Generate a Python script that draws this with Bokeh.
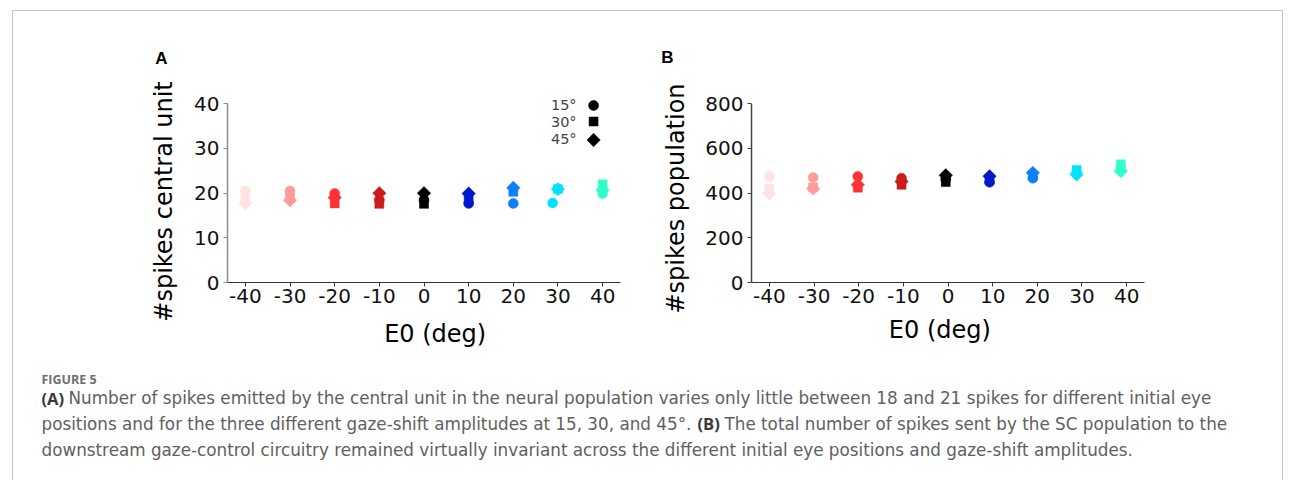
import math
from bokeh.plotting import figure
from bokeh.models import Range1d, Label, FixedTicker, ColumnDataSource
from bokeh.layouts import row, column
from bokeh.embed import file_html
from bokeh.resources import INLINE
from bokeh.core.properties import value

# ---------------- data ----------------
e0_ticks = [-40, -30, -20, -10, 0, 10, 20, 30, 40]
e0_colors = ["#ffe2e2", "#ff9b9b", "#ff3333", "#cc1b1b", "#000000",
             "#0019cc", "#0a80ff", "#00e3ff", "#30ffcc"]
amplitudes = ["15°", "30°", "45°"]

# Panel A: spikes of the central unit
a_x_15 = [-40, -30, -20, -10, 0, 10, 20, 28.8, 40]
a_x_30 = [-40, -30, -20, -10, 0, 10, 20, 30, 40]
a_x_45 = [-40, -30, -20, -10, 0, 10, 20, 30, 40]
a_y_15 = [20.5, 20.5, 19.9, 18.5, 18.5, 17.7, 17.7, 17.8, 19.9]
a_y_30 = [19.0, 19.0, 17.7, 17.6, 17.6, 18.7, 20.3, 20.9, 22.0]
a_y_45 = [17.8, 18.4, 19.0, 20.0, 20.0, 19.9, 21.2, 20.9, 20.7]
a_yticks = [0, 10, 20, 30, 40]

# Panel B: spikes of the whole population
b_x = [-40, -30.2, -20.2, -10.4, -0.5, 9.3, 19.0, 28.8, 38.7]
b_y_15 = [474, 469, 474, 466, 462, 448, 466, 490, 510]
b_y_30 = [419, 425, 424, 437, 449, 460, 478, 503, 528]
b_y_45 = [398, 420, 437, 451, 479, 475, 490, 483, 498]
b_yticks = [0, 200, 400, 600, 800]

panel_letters = ["A", "B"]
y_titles = ["#spikes central unit", "#spikes population"]
x_title = "E0 (deg)"
caption_title = "FIGURE 5"
caption_line1 = ("(A)", "Number of spikes emitted by the central unit in the neural population varies only little between 18 and 21 spikes for different initial eye")
caption_line2 = ("positions and for the three different gaze-shift amplitudes at 15, 30, and 45°.", "(B)", "The total number of spikes sent by the SC population to the")
caption_line3 = "downstream gaze-control circuitry remained virtually invariant across the different initial eye positions and gaze-shift amplitudes."

# ---------------- layout constants (page pixels) ----------------
PX0, PY0 = 12, 10           # top-left of the whole figure block
ROW_H, XL_H, CAP_H = 305, 35, 129
W_LA, W_A, W_LB, W_B = 178, 456, 55, 580
FONT = "DejaVu Sans"
BORDER = "#c4c4c4"
X_LA = PX0
X_A = X_LA + W_LA
X_LB = X_A + W_A
X_B = X_LB + W_LB
Y_XL = PY0 + ROW_H
Y_CAP = Y_XL + XL_H
FULL_W = W_LA + W_A + W_LB + W_B


def strip(w, h, x0, y0):
    """A plain drawing area; returns figure and page->data mapper."""
    p = figure(width=w, height=h, x_range=Range1d(0, w), y_range=Range1d(0, h),
               output_backend="svg", toolbar_location=None, min_border=0)
    p.axis.visible = False
    p.grid.visible = False
    p.outline_line_color = None

    def m(px, py):
        return px - x0, (y0 + h) - py
    return p, m


def put_text(p, m, px, py, t, size, font=FONT, bold=False, color="#000000",
             align="center", angle=0.0):
    x, y = m(px, py)
    p.text(x=[x], y=[y], text=[t], text_font=value(font), text_font_size=size,
           text_font_style="bold" if bold else "normal", text_color=color,
           text_align=align, text_baseline="middle", angle=angle)


def panel(w, h, x0, y0, fr, xr, yr, yticks, yaxis_color):
    """fr = (left, right, top, bottom) of the plotting frame in page pixels."""
    l, r, t, b = fr
    p = figure(width=w, height=h, x_range=Range1d(*xr), y_range=Range1d(*yr),
               output_backend="svg", toolbar_location=None,
               min_border_left=l - x0, min_border_right=(x0 + w) - r,
               min_border_top=t - y0, min_border_bottom=(y0 + h) - b)
    p.outline_line_color = None
    p.xgrid.grid_line_color = None
    p.ygrid.grid_line_color = None
    p.xaxis.ticker = FixedTicker(ticks=e0_ticks)
    p.xaxis.major_label_overrides = {v: str(v) for v in e0_ticks}
    p.yaxis.ticker = FixedTicker(ticks=yticks)
    p.yaxis.bounds = (yticks[0], yticks[-1])
    for ax in (p.xaxis, p.yaxis):
        ax.minor_tick_line_color = None
        ax.major_tick_in = 0
        ax.major_tick_out = 4
        ax.major_label_text_font = FONT
        ax.major_label_text_font_size = "20px"
        ax.major_label_text_color = "#111111"
    p.xaxis.axis_line_color = "#333333"
    p.xaxis.major_tick_line_color = "#333333"
    p.yaxis.axis_line_color = yaxis_color
    p.yaxis.major_tick_line_color = yaxis_color
    p.yaxis.axis_line_width = 1.5
    p.xaxis.major_label_standoff = 2
    p.yaxis.major_label_standoff = 4

    def m(px, py):
        x = xr[0] + (px - l) * (xr[1] - xr[0]) / (r - l)
        y = yr[0] + (b - py) * (yr[1] - yr[0]) / (b - t)
        return x, y
    return p, m


MARKERS = [("circle", 10, 0.0), ("square", 9, 0.0), ("square", 9.5, math.pi / 4)]


def add_points(p, xs_list, ys_list):
    for xs, ys, (mk, sz, ang) in zip(xs_list, ys_list, MARKERS):
        src = ColumnDataSource(dict(x=xs, y=ys, c=e0_colors))
        p.scatter("x", "y", source=src, marker=mk, size=sz, angle=ang,
                  fill_color="c", line_color="c", line_width=0.5)


# ---------------- panel A ----------------
pLA, mLA = strip(W_LA, ROW_H + XL_H, X_LA, PY0)
put_text(pLA, mLA, 160, 57, panel_letters[0], "17px", font="Liberation Sans", bold=True)
put_text(pLA, mLA, 162, 200, y_titles[0], "24px", angle=math.pi / 2)

pA, mA = panel(W_A, ROW_H, X_A, PY0, (225, 619, 95, 281), (-44, 44), (0, 41.63),
               a_yticks, "#8c8c8c")
add_points(pA, [a_x_15, a_x_30, a_x_45], [a_y_15, a_y_30, a_y_45])
# legend: text left of marker
leg_text_y = [103.5, 120.0, 137.5]
leg_mark_y = [104.0, 120.0, 138.5]
for t, ty in zip(amplitudes, leg_text_y):
    lx, ly = mA(575, ty)
    pA.add_layout(Label(x=lx, y=ly, text=t, text_font=FONT, text_font_size="14.5px",
                        text_align="right", text_baseline="middle"))
for (mk, sz, ang), my in zip(MARKERS, leg_mark_y):
    lx, ly = mA(592, my)
    pA.scatter([lx], [ly], marker=mk, size=sz, angle=ang, fill_color="black",
               line_color="black", line_width=0.5)

pXA, mXA = strip(W_A, XL_H, X_A, Y_XL)
put_text(pXA, mXA, 431, 332, x_title, "24px")

# ---------------- panel B ----------------
pLB, mLB = strip(W_LB, ROW_H + XL_H, X_LB, PY0)
put_text(pLB, mLB, 666, 56, panel_letters[1], "17px", font="Liberation Sans", bold=True)
put_text(pLB, mLB, 674.5, 197, y_titles[1], "24px", angle=math.pi / 2)

pB, mB = panel(W_B, ROW_H, X_B, PY0, (749, 1143, 102, 281), (-44, 44), (0, 800),
               b_yticks, "#444444")
add_points(pB, [b_x, b_x, b_x], [b_y_15, b_y_30, b_y_45])

pXB, mXB = strip(W_B, XL_H, X_B, Y_XL)
put_text(pXB, mXB, 979, 328, x_title, "24px")

# ---------------- caption ----------------
pCap, mCap = strip(FULL_W, CAP_H, PX0, Y_CAP)
CF = "DejaVu Sans"
CS = "16.8px"
body = "#606060"
put_text(pCap, mCap, 40, 377.5, caption_title, "12.5px", font="Open Sans", bold=True,
         color="#6e6e6e", align="left")
put_text(pCap, mCap, 40, 396.5, caption_line1[0], "16.5px", font="Open Sans", bold=True,
         color="#383838", align="left")
put_text(pCap, mCap, 67, 396.5, caption_line1[1], CS, font=CF, color=body, align="left")
put_text(pCap, mCap, 40, 422, caption_line2[0], CS, font=CF, color=body, align="left")
put_text(pCap, mCap, 696, 422, caption_line2[1], "16.5px", font="Open Sans", bold=True,
         color="#383838", align="left")
put_text(pCap, mCap, 723, 422, caption_line2[2], CS, font=CF, color=body, align="left")
put_text(pCap, mCap, 40, 448, caption_line3, CS, font=CF, color=body, align="left")

root = column(row(pLA, column(pA, pXA), pLB, column(pB, pXB)), pCap,
              margin=(PY0, 0, 0, PX0),
              styles={"border-top": f"1px solid {BORDER}",
                      "border-left": f"1px solid {BORDER}",
                      "border-right": f"1px solid {BORDER}"})

open("out.html", "w").write(file_html(root, INLINE))
